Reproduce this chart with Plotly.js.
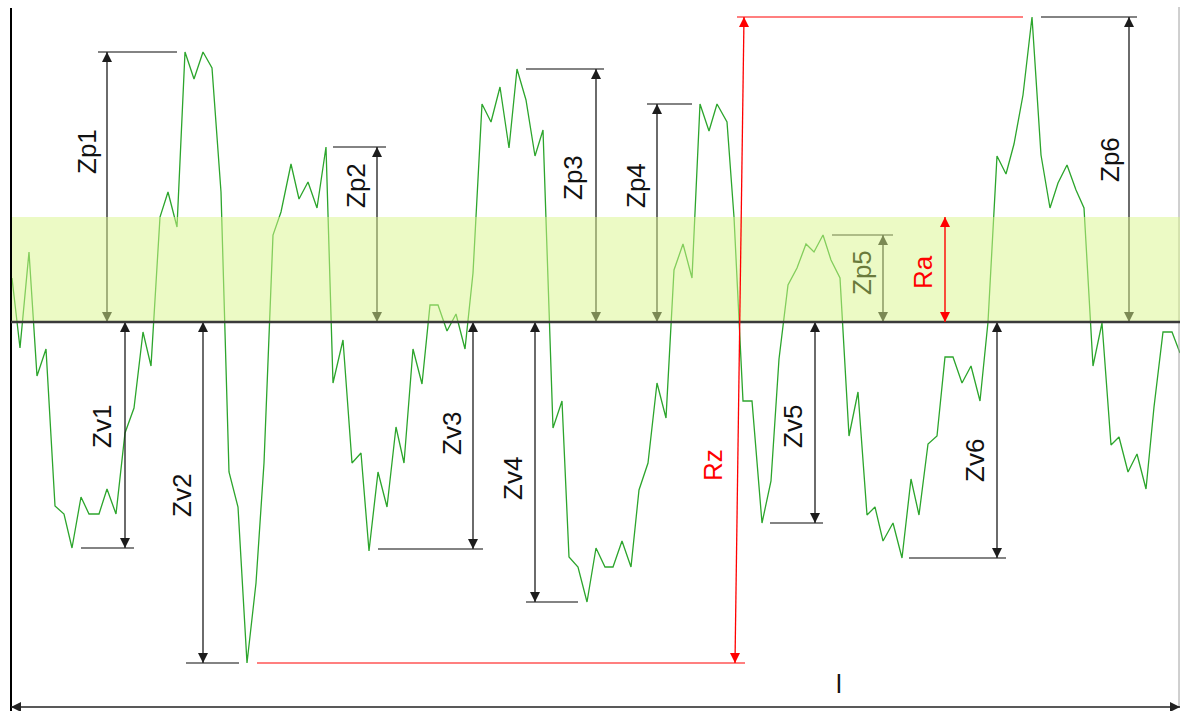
<!DOCTYPE html>
<html><head><meta charset="utf-8">
<script src="https://cdn.plot.ly/plotly-3.0.1.min.js"></script>
<style>html,body{margin:0;padding:0;background:#fff;overflow:hidden}#chart{width:1180px;height:711px}</style>
</head><body><div id="chart"></div>
<script>
// ---- data (heights relative to the mean line) ----
const profileX = [12,20,29,37,46,55,64,72,81,89,99,107,116,125,134,143,151,160,168,177,185,194,203,212,221,229,238,247,256,264,273,281,291,299,308,317,326,333,343,352,361,369,378,387,396,404,413,422,430,438,447,456,465,473,482,491,500,509,517,526,535,543,553,562,569,578,587,596,605,613,622,631,639,648,657,666,674,683,692,700,709,717,727,734,743,752,762,771,779,788,797,806,814,823,831,840,849,858,867,875,883,893,902,911,919,928,937,945,953,962,971,980,988,997,1006,1014,1023,1032,1041,1050,1058,1067,1076,1084,1093,1102,1111,1119,1128,1137,1146,1154,1163,1172,1180];
const profileZ = [44,-26,70,-54,-27,-184,-192,-226,-175,-192,-192,-167,-192,-111,-86,-10,-44,105,130,95,270,243,270,254,130,-150,-185,-341,-261,-141,87,110,158,123,140,114,175,-61,-18,-141,-131,-229,-150,-185,-105,-141,-27,-62,17,17,-9,8,-27,49,218,200,235,174,253,222,166,192,-106,-79,-235,-245,-280,-226,-245,-245,-219,-245,-168,-141,-61,-96,52,78,44,218,191,218,200,105,-79,-79,-201,-159,-37,37,54,78,70,87,62,44,-114,-70,-193,-185,-219,-201,-236,-157,-193,-122,-114,-35,-35,-61,-44,-79,0,166,148,178,227,305,167,114,139,157,132,114,-44,-1,-123,-115,-150,-132,-167,-85,-10,-10,-31];
const peakLabels = ['Zp1','Zp2','Zp3','Zp4','Zp5','Zp6'];
const peakValues = [270,175,253,218,87,305];
const valleyLabels = ['Zv1','Zv2','Zv3','Zv4','Zv5','Zv6'];
const valleyValues = [-226,-341,-227,-280,-201,-236];
const raLabel = 'Ra';
const raValue = 105;
const rzLabel = 'Rz';
const lengthLabel = 'l';
const lengthStart = 11, lengthEnd = 1180;

// ---- placement of the dimension marks ----
const peakArrowX = [107,377,596,657,883,1129];
const peakRefX0 = [98,333,526,647,832,1041];
const peakRefX1 = [177,386,604,692,893,1137];
const peakTextX = [87,356,573,636,862,1110];
const peakTextY = [170,136,144,136,49,162];
const valleyArrowX = [125,203,473,535,815,997];
const valleyRefX0 = [81,186,378,526,770,909];
const valleyRefX1 = [134,239,483,578,823,1006];
const valleyTextX = [102,182,452,513,793,975];
const valleyTextY = [-105,-174,-112,-157,-105,-139];

const rzTop = Math.max(...peakValues);
const rzBottom = Math.min(...valleyValues);

const STEM = '#1c1c1c', REF = '#5a5a5a', RED = '#ff0000';
const traces = [];
function seg(x, y, color, width) {
  traces.push({type:'scatter', mode:'lines', x:x, y:y, line:{color:color, width:width}, hoverinfo:'skip'});
}
function arrow(x, y, symbols, color, width) {
  traces.push({type:'scatter', mode:'lines+markers', x:x, y:y,
    line:{color:color, width:width},
    marker:{symbol:symbols, size:10, color:color, line:{width:0}}, hoverinfo:'skip'});
}

// profile
traces.push({type:'scatter', mode:'lines', x:profileX, y:profileZ,
  line:{color:'#2ca52c', width:1.3}, hoverinfo:'skip'});
// frame
seg([lengthStart, lengthStart], [314, -389], '#000', 2);
seg([lengthEnd - 1, lengthEnd - 1], [315, -385], '#a0a0a0', 1);

// peaks
peakValues.forEach((v, i) => {
  seg([peakRefX0[i], peakRefX1[i]], [v, v], REF, 1.6);
  arrow([peakArrowX[i], peakArrowX[i]], [v, 0], ['arrow-up','arrow-down'], STEM, 1.3);
});
// valleys
valleyValues.forEach((v, i) => {
  seg([valleyRefX0[i], valleyRefX1[i]], [v, v], REF, 1.6);
  arrow([valleyArrowX[i], valleyArrowX[i]], [0, v], ['arrow-up','arrow-down'], STEM, 1.3);
});
// sampling length
arrow([lengthStart, lengthEnd], [-385, -385], ['arrow-left','arrow-right'], '#222', 1.4);

// Ra band (drawn over the marks beneath it)
traces.push({type:'scatter', mode:'none', fill:'toself',
  x:[lengthStart + 1, lengthEnd, lengthEnd, lengthStart + 1, lengthStart + 1],
  y:[0, 0, raValue, raValue, 0],
  fillcolor:'rgba(218,246,140,0.5)', hoverinfo:'skip'});

// mean line
seg([lengthStart, lengthEnd], [0, 0], '#3a3a3a', 2.6);

// Ra and Rz in red
arrow([945, 945], [raValue, 0], ['arrow-up','arrow-down'], RED, 1.4);
seg([737, 1023], [rzTop, rzTop], RED, 1.2);
seg([257, 745], [rzBottom, rzBottom], RED, 1.2);
arrow([744, 735], [rzTop, rzBottom], ['arrow-up','arrow-down'], RED, 1.3);

const FONT = 'Liberation Sans, Arial, sans-serif';
const annotations = [];
function label(text, x, y, color, angle) {
  annotations.push({text:text, x:x, y:y, xref:'x', yref:'y', showarrow:false,
    textangle:angle, font:{family:FONT, size:26, color:color}, xanchor:'center', yanchor:'middle'});
}
peakLabels.forEach((t, i) => label(t, peakTextX[i], peakTextY[i], i === 4 ? '#6a7a3c' : '#111', -90));
valleyLabels.forEach((t, i) => label(t, valleyTextX[i], valleyTextY[i], '#111', -90));
label(raLabel, 923, 50, RED, -90);
label(rzLabel, 713, -143, RED, -90);
label(lengthLabel, 839, -362, '#111', 0);

const layout = {
  width:1180, height:711, margin:{l:0, r:0, t:0, b:0},
  paper_bgcolor:'#fff', plot_bgcolor:'#fff', showlegend:false, hovermode:false,
  xaxis:{range:[0, 1180], visible:false, fixedrange:true},
  yaxis:{range:[-389, 322], visible:false, fixedrange:true},
  annotations:annotations
};
Plotly.newPlot('chart', traces, layout, {staticPlot:true, displayModeBar:false});
</script>
</body></html>
